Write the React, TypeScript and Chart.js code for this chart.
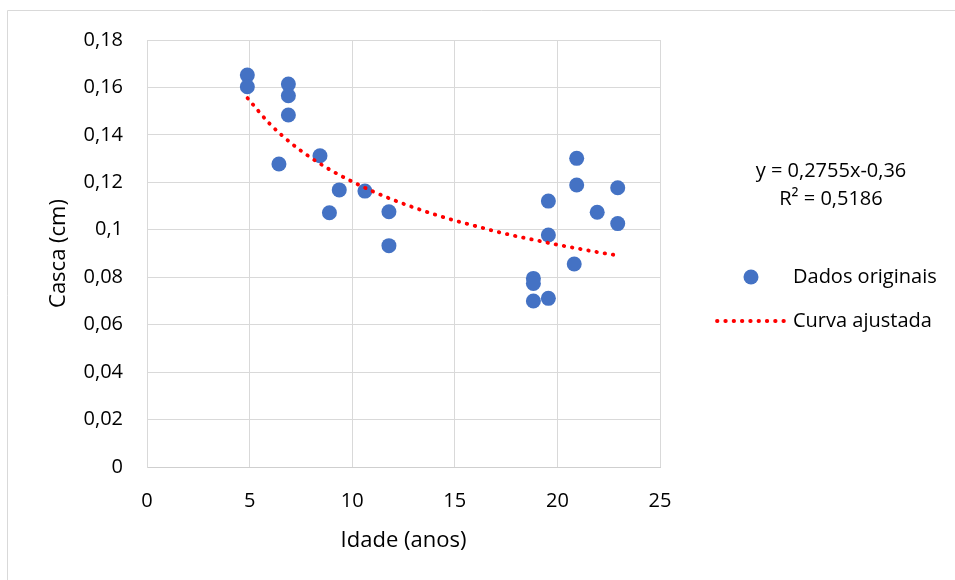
import React, { useEffect, useRef } from "react";
import { Chart, registerables } from "chart.js";

Chart.register(...registerables);

// Observed data: Idade (anos) vs Casca (cm)
const idade = [
  4.89, 4.89, 6.89, 6.89, 6.89, 6.43, 8.43, 9.37, 8.89, 10.62, 11.79, 11.79,
  18.83, 18.83, 18.83, 19.56, 19.56, 19.56, 20.94, 20.94, 20.82, 21.94, 22.94, 22.94,
];
const casca = [
  0.1652, 0.1603, 0.1614, 0.1565, 0.1484, 0.1277, 0.1312, 0.1168, 0.1072, 0.1163, 0.1076, 0.0933,
  0.0795, 0.0774, 0.0700, 0.1121, 0.0978, 0.0711, 0.1301, 0.1189, 0.0856, 0.1074, 0.1177, 0.1026,
];

// Fitted curve
const curvaX = [4.9, 6, 7, 8, 9, 10, 11, 12, 13, 14, 15, 16, 17, 18, 19, 20, 21, 22, 23];
const curvaY = [
  0.1555, 0.1445, 0.1367, 0.1303, 0.1249, 0.1203, 0.1162, 0.1126, 0.1094, 0.1065,
  0.1039, 0.1016, 0.0993, 0.0973, 0.0955, 0.0937, 0.0921, 0.0905, 0.0891,
];

const xTicks = [0, 5, 10, 15, 20, 25];
const xTickLabels = ["0", "5", "10", "15", "20", "25"];
const yTicks = [0, 0.02, 0.04, 0.06, 0.08, 0.1, 0.12, 0.14, 0.16, 0.18];
const yTickLabels = ["0", "0,02", "0,04", "0,06", "0,08", "0,1", "0,12", "0,14", "0,16", "0,18"];

const xTitle = "Idade (anos)";
const yTitle = "Casca (cm)";
const equationLine1 = "y = 0,2755x-0,36";
const equationLine2 = "R² = 0,5186";
const seriesPoints = "Dados originais";
const seriesCurve = "Curva ajustada";

const FONT = "'Open Sans', 'Noto Sans', sans-serif";
const BLUE = "#4472c4";
const RED = "#ff0000";
const GRID = "#d9d9d9";

export default function App() {
  const ref = useRef<HTMLCanvasElement | null>(null);

  useEffect(() => {
    if (!ref.current) return;

    const overlay = {
      id: "overlay",
      afterDraw(chart: any) {
        const ctx = chart.ctx as CanvasRenderingContext2D;
        ctx.save();
        // outer border (top and left visible)
        ctx.strokeStyle = GRID;
        ctx.lineWidth = 1;
        ctx.beginPath();
        ctx.moveTo(7.5, 580);
        ctx.lineTo(7.5, 10.5);
        ctx.lineTo(955, 10.5);
        ctx.stroke();

        ctx.fillStyle = "#000";
        ctx.textAlign = "center";
        ctx.textBaseline = "middle";
        // axis titles
        ctx.font = `22px ${FONT}`;
        const ca = chart.chartArea;
        ctx.fillText(xTitle, (ca.left + ca.right) / 2, 541);
        ctx.save();
        ctx.translate(59, (ca.top + ca.bottom) / 2);
        ctx.rotate(-Math.PI / 2);
        ctx.fillText(yTitle, 0, 0);
        ctx.restore();

        // equation
        ctx.font = `20px ${FONT}`;
        ctx.fillText(equationLine1, 831, 171);
        ctx.fillText(equationLine2, 831, 199);

        // legend
        const ds0 = chart.data.datasets[1];
        const ds1 = chart.data.datasets[0];
        ctx.textAlign = "left";
        ctx.fillStyle = ds0.backgroundColor;
        ctx.beginPath();
        ctx.arc(751, 277, 7.5, 0, Math.PI * 2);
        ctx.fill();
        ctx.strokeStyle = ds1.borderColor;
        ctx.lineWidth = ds1.borderWidth;
        ctx.lineCap = "round";
        ctx.setLineDash(ds1.borderDash);
        ctx.beginPath();
        ctx.moveTo(717, 321);
        ctx.lineTo(786, 321);
        ctx.stroke();
        ctx.setLineDash([]);
        ctx.fillStyle = "#000";
        ctx.fillText(ds0.label, 793, 277);
        ctx.fillText(ds1.label, 793, 321);
        ctx.restore();
      },
    };

    const chart = new Chart(ref.current, {
      type: "scatter",
      data: {
        datasets: [
          {
            type: "line",
            label: seriesCurve,
            data: curvaX.map((x, i) => ({ x, y: curvaY[i] })),
            borderColor: RED,
            borderWidth: 3.8,
            borderDash: [0.5, 7.8],
            borderCapStyle: "round",
            pointRadius: 0,
            fill: false,
            tension: 0.4,
            cubicInterpolationMode: "monotone",
            order: 0,
          } as any,
          {
            label: seriesPoints,
            data: idade.map((x, i) => ({ x, y: casca[i] })),
            backgroundColor: BLUE,
            borderColor: BLUE,
            borderWidth: 0,
            pointRadius: 7.5,
            order: 1,
          },
        ],
      },
      options: {
        animation: false,
        responsive: false,
        maintainAspectRatio: false,
        layout: { padding: { left: 0, top: 40, right: 295, bottom: 0 } },
        plugins: { legend: { display: false }, tooltip: { enabled: false } },
        scales: {
          x: {
            type: "linear",
            min: 0,
            max: 25,
            afterBuildTicks: (s: any) => {
              s.ticks = xTicks.map((v) => ({ value: v }));
            },
            afterFit: (s: any) => {
              s.height = 113;
            },
            grid: { color: GRID, lineWidth: 1, drawTicks: false },
            border: { color: "#cfcfcf" },
            ticks: {
              padding: 22,
              color: "#000",
              font: { family: FONT, size: 20 },
              callback: (v: any) => {
                const i = xTicks.indexOf(Number(v));
                return i >= 0 ? xTickLabels[i] : "";
              },
            },
          },
          y: {
            type: "linear",
            min: 0,
            max: 0.18,
            afterBuildTicks: (s: any) => {
              s.ticks = yTicks.map((v) => ({ value: v }));
            },
            afterFit: (s: any) => {
              s.width = 147;
            },
            grid: { color: GRID, lineWidth: 1, drawTicks: false },
            border: { color: GRID },
            ticks: {
              padding: 24,
              color: "#000",
              font: { family: FONT, size: 20 },
              callback: (v: any) => {
                const i = yTicks.findIndex((t) => Math.abs(t - Number(v)) < 1e-9);
                return i >= 0 ? yTickLabels[i] : "";
              },
            },
          },
        },
      },
      plugins: [overlay],
    });

    return () => chart.destroy();
  }, []);

  return (
    <div style={{ position: "fixed", left: 0, top: 0, width: 955, height: 580, background: "#fff" }}>
      <canvas ref={ref} width={955} height={580} style={{ width: 955, height: 580, display: "block" }} />
    </div>
  );
}
